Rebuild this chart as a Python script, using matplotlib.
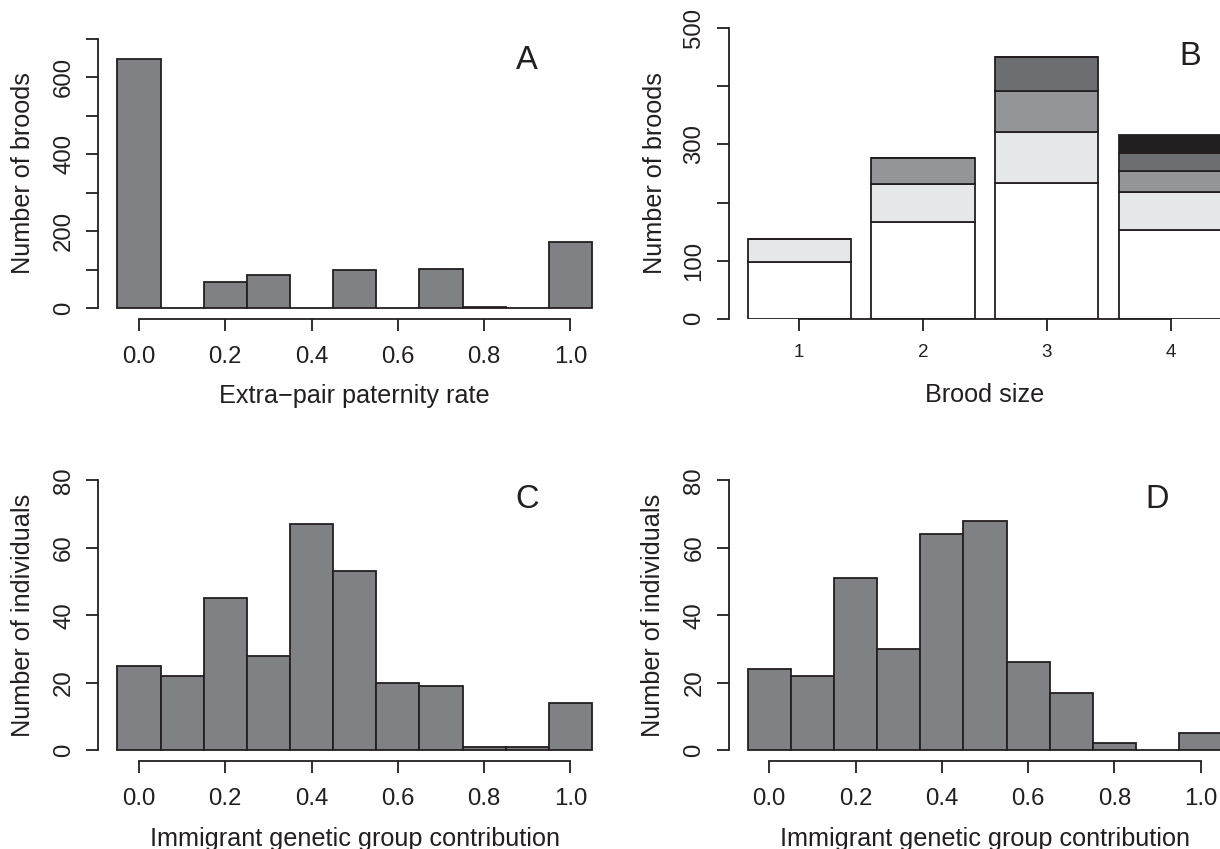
import matplotlib.pyplot as plt

plt.rcParams['font.family'] = ['Liberation Sans', 'DejaVu Sans']

# histogram bin centres (width 0.1)
bin_centres = [0.0, 0.1, 0.2, 0.3, 0.4, 0.5, 0.6, 0.7, 0.8, 0.9, 1.0]

# A: extra-pair paternity rate
epp_counts = [649, 0, 68, 87, 0, 100, 0, 102, 2, 0, 171]

# B: broods by size, split by number of extra-pair offspring
brood_sizes = ['1', '2', '3', '4']
epo_0 = [98, 167, 234, 152]
epo_1 = [39, 65, 87, 67]
epo_2 = [0, 45, 71, 35]
epo_3 = [0, 0, 58, 31]
epo_4 = [0, 0, 0, 32]
epo_layers = [epo_0, epo_1, epo_2, epo_3, epo_4]
epo_colours = ['#ffffff', '#e6e7e8', '#939598', '#6d6e71', '#231f20']

# C and D: immigrant genetic group contribution
igg_counts_c = [25, 22, 45, 28, 67, 53, 20, 19, 1, 1, 14]
igg_counts_d = [24, 22, 51, 30, 64, 68, 26, 17, 2, 0, 5]

GRAY = '#808185'
EDGE = '#231f20'
LW = 1.3
TICK_FS = 17.3
LAB_FS = 18.2
LET_FS = 23.5

fig = plt.figure(figsize=(12.2, 8.49), dpi=100)
axA = fig.add_axes([0.0807, 0.6245, 0.4201, 0.3423])
axB = fig.add_axes([0.5973, 0.6245, 0.4201, 0.3423])
axC = fig.add_axes([0.0807, 0.1039, 0.4201, 0.3431])
axD = fig.add_axes([0.5973, 0.1039, 0.4201, 0.3431])


def r_style(ax):
    for s in ['top', 'right']:
        ax.spines[s].set_visible(False)
    for s in ['left', 'bottom']:
        ax.spines[s].set_linewidth(LW)
        ax.spines[s].set_color(EDGE)
    ax.tick_params(axis='both', length=8.8, width=LW, color=EDGE,
                   labelsize=TICK_FS, labelcolor=EDGE)
    ax.tick_params(axis='x', pad=11)
    ax.tick_params(axis='y', pad=8, labelrotation=90)
    for lab in ax.get_yticklabels():
        lab.set_va('center')


def hist_panel(ax, counts, ymax, ystep, ylabel_every, ylabel, letter, letter_y):
    ax.bar(bin_centres, counts, width=0.1, color=GRAY, edgecolor=EDGE, linewidth=LW)
    ext = 0.04 * ymax
    ax.set_xlim(-0.094, 1.094)
    ax.set_ylim(-ext, ymax + ext)
    yt = list(range(0, ymax + 1, ystep))
    ax.set_yticks(yt)
    ax.set_yticklabels([str(v) if (v // ystep) % ylabel_every == 0 else '' for v in yt])
    ax.set_xticks([0.0, 0.2, 0.4, 0.6, 0.8, 1.0])
    ax.set_xticklabels(['0.0', '0.2', '0.4', '0.6', '0.8', '1.0'])
    ax.spines['left'].set_bounds(0, ymax)
    ax.spines['bottom'].set_bounds(0, 1)
    r_style(ax)
    ax.set_ylabel(ylabel, fontsize=LAB_FS, color=EDGE, va='center')
    ax.yaxis.set_label_coords(-0.147, 0.5)
    ax.xaxis.set_label_coords(0.5, -0.226)
    ax.text(0.9, letter_y, letter, fontsize=LET_FS, color=EDGE, ha='center', va='center')


hist_panel(axA, epp_counts, 700, 100, 2, 'Number of broods', 'A', 645)
axA.set_xlabel('Extra\u2212pair paternity rate', fontsize=LAB_FS, color=EDGE)

hist_panel(axC, igg_counts_c, 80, 20, 1, 'Number of individuals', 'C', 74.4)
axC.set_xlabel('Immigrant genetic group contribution', fontsize=LAB_FS, color=EDGE)

hist_panel(axD, igg_counts_d, 80, 20, 1, 'Number of individuals', 'D', 74.4)
axD.set_xlabel('Immigrant genetic group contribution', fontsize=LAB_FS, color=EDGE)

# B: stacked bars, R barplot layout (width 1, space 0.2)
xpos = [0.7, 1.9, 3.1, 4.3]
bottom = [0, 0, 0, 0]
for layer, col in zip(epo_layers, epo_colours):
    axB.bar(xpos, layer, width=1.0, bottom=bottom, color=col,
            edgecolor=EDGE, linewidth=LW)
    bottom = [b + h for b, h in zip(bottom, layer)]
axB.set_xlim(0.016, 4.984)
axB.set_ylim(0, 500)
axB.set_xticks(xpos)
axB.set_xticklabels(brood_sizes)
axB.set_yticks([0, 100, 200, 300, 400, 500])
axB.set_yticklabels(['0', '100', '', '300', '', '500'])
axB.spines['left'].set_bounds(0, 500)
axB.spines['bottom'].set_bounds(0.7, 4.3)
r_style(axB)
axB.tick_params(axis='x', labelsize=13.5, pad=9.5)
axB.set_ylabel('Number of broods', fontsize=LAB_FS, color=EDGE, va='center')
axB.yaxis.set_label_coords(-0.143, 0.5)
axB.set_xlabel('Brood size', fontsize=LAB_FS, color=EDGE)
axB.xaxis.set_label_coords(0.5, -0.22)
axB.text(4.49, 452, 'B', fontsize=LET_FS, color=EDGE, ha='center', va='center')

fig.savefig('out.png', dpi=100)
